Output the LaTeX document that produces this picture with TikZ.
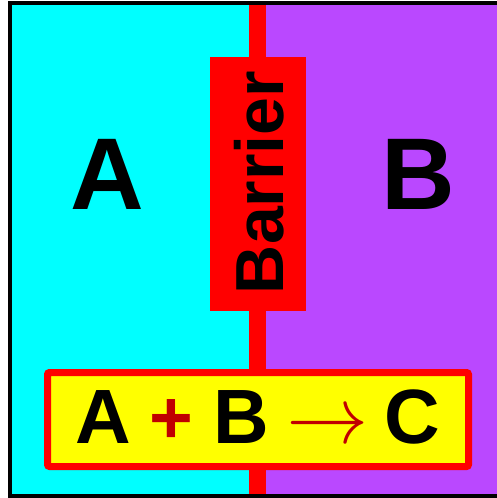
\documentclass[tikz,border=0pt]{standalone}
\usepackage{fontspec}
\usepackage{unicode-math}
\setmainfont{Liberation Sans}
\setmathfont{Latin Modern Math}
\definecolor{cyanA}{HTML}{00FFFF}
\definecolor{purpleB}{HTML}{BA48FF}
\definecolor{barred}{HTML}{FF0000}
\definecolor{boxyellow}{HTML}{FFFF00}
\definecolor{darkred}{HTML}{C00000}
\tikzset{
  bigletter/.style={font=\bfseries\fontsize{102}{102}\selectfont, text=black, inner sep=0pt},
  eqletter/.style={font=\bfseries\fontsize{77}{77}\selectfont, text=black, inner sep=0pt, anchor=base},
  eqsym/.style={font=\bfseries\fontsize{75}{75}\selectfont, text=darkred, inner sep=0pt, anchor=base},
}
\begin{document}
\begin{tikzpicture}[x=1pt,y=-1pt]
\useasboundingbox (0,0) rectangle (496,498);
% chambers
\fill[cyanA] (10,3) rectangle (257,496);
\fill[purpleB] (257,3) rectangle (500,496);
% barrier membrane
\fill[barred] (248.5,3) rectangle (265.5,494);
% outer border
\draw[line width=4pt] (10,3) rectangle (500,496);
% barrier label box
\fill[barred] (210,57) rectangle (306,311);
\node[font=\bfseries\fontsize{68}{68}\selectfont, text=black, inner sep=0pt, rotate=90, anchor=base] (barrier) at (283,182.5) {Barrier};
% big letters
\node[bigletter] (A) at (107.5,174) {A};
\node[bigletter] (B) at (418.5,174) {B};
% reaction box
\draw[barred, fill=boxyellow, line width=7pt, rounded corners=2pt] (47.5,372.5) rectangle (468.5,466.5);
\node[eqletter] (rA) at (103.5,443) {A};
\node[eqsym] (plus) at (171,443) {+};
\node[eqletter] (rB) at (241.5,443) {B};
\node[text=darkred, inner sep=0pt, anchor=base, font=\fontsize{82}{82}\selectfont] (arrow) at (327.5,443.5) {$\rightarrow$};
\node[eqletter] (rC) at (412.5,443) {C};
\end{tikzpicture}
\end{document}
